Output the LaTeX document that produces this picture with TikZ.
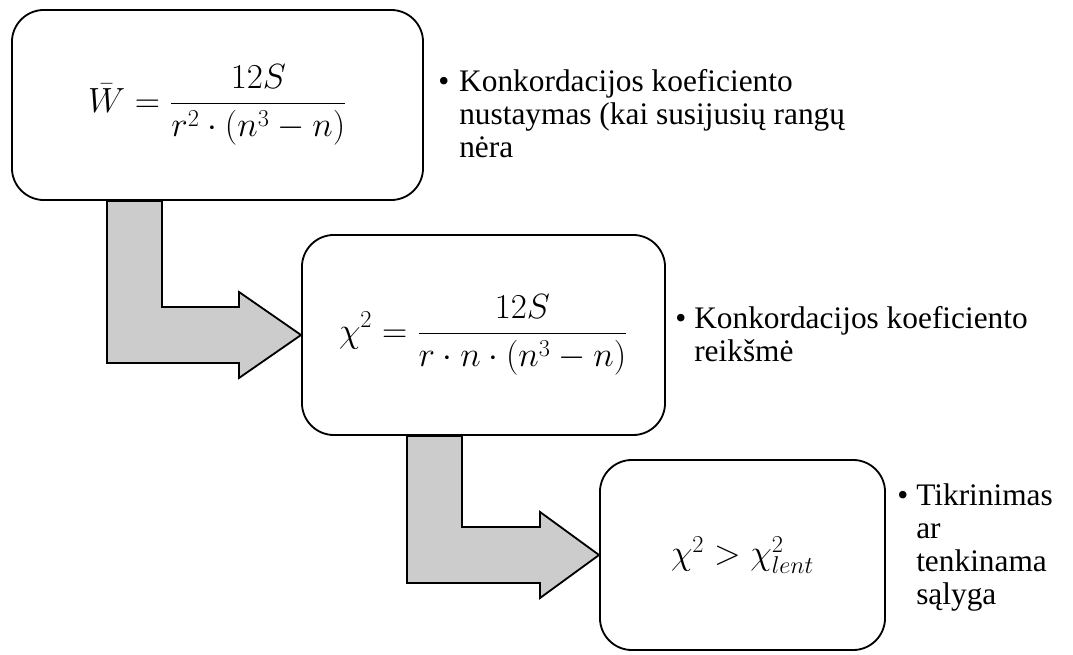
\documentclass[tikz,border=0pt]{standalone}
\usepackage{fontspec}
\setmainfont{Liberation Serif}
\usetikzlibrary{calc}
\tikzset{
  blokas/.style={draw, line width=1.3pt, rounded corners=0.8cm, fill=white, inner sep=0pt, font=\fontsize{26}{30}\selectfont},
  rodykle/.style={draw, line width=1.3pt, fill=gray!40, line join=miter},
  tekstas/.style={inner sep=0pt, anchor=north west, font=\fontsize{22.3}{23.4}\selectfont}
}
\begin{document}
\begin{tikzpicture}[x=0.025cm, y=-0.025cm, line join=round, line cap=round]
	\useasboundingbox (0,0) rectangle (1073,655);
	% Blokai
	\node[blokas, minimum width=10.275cm, minimum height=4.75cm] (b1) at (217.5,105) {$\displaystyle \bar{W}=\frac{12S}{r^2\cdot(n^3-n)}$};
	\node[blokas, minimum width=9.075cm, minimum height=5cm] (b2) at (483.5,335) {$\displaystyle \chi^2=\frac{12S}{r\cdot n\cdot(n^3-n)}$};
	\node[blokas, minimum width=7.125cm, minimum height=4.75cm] (b3) at (742.5,555) {$\chi^2>\chi^2_{lent}$};
	
	% Rodyklės
	\draw[rodykle] ($(b1.south west)+(96,0)$) -- ($(b2.west)+(-194,28)$) -- ($(b2.west)+(-62,28)$) -- ($(b2.west)+(-62,43)$) -- (b2.west) -- ($(b2.west)+(-62,-43)$) -- ($(b2.west)+(-62,-28)$) -- ($(b2.west)+(-139,-28)$) -- ($(b1.south west)+(151,0)$) -- cycle;
	\draw[rodykle] ($(b2.south west)+(106,0)$) -- ($(b3.west)+(-192,28)$) -- ($(b3.west)+(-59,28)$) -- ($(b3.west)+(-59,43)$) -- (b3.west) -- ($(b3.west)+(-59,-43)$) -- ($(b3.west)+(-59,-28)$) -- ($(b3.west)+(-137,-28)$) -- ($(b2.south west)+(161,0)$) -- cycle;
	
	% Paaiškinimai
	\node[tekstas] (t1) at (438,68) {\begin{tabular}{@{}l@{\hspace{0.25cm}}l@{}}\textbullet & Konkordacijos koeficiento\\ & nustaymas (kai susijusių rangų\\ & nėra\end{tabular}};
	\node[tekstas] (t2) at (675,305) {\begin{tabular}{@{}l@{\hspace{0.2cm}}l@{}}\textbullet & Konkordacijos koeficiento\\ & reikšmė\end{tabular}};
	\node[tekstas] (t3) at (897,482) {\begin{tabular}{@{}l@{\hspace{0.2cm}}l@{}}\textbullet & Tikrinimas\\ & ar\\ & tenkinama\\ & sąlyga\end{tabular}};
\end{tikzpicture}
\end{document}
